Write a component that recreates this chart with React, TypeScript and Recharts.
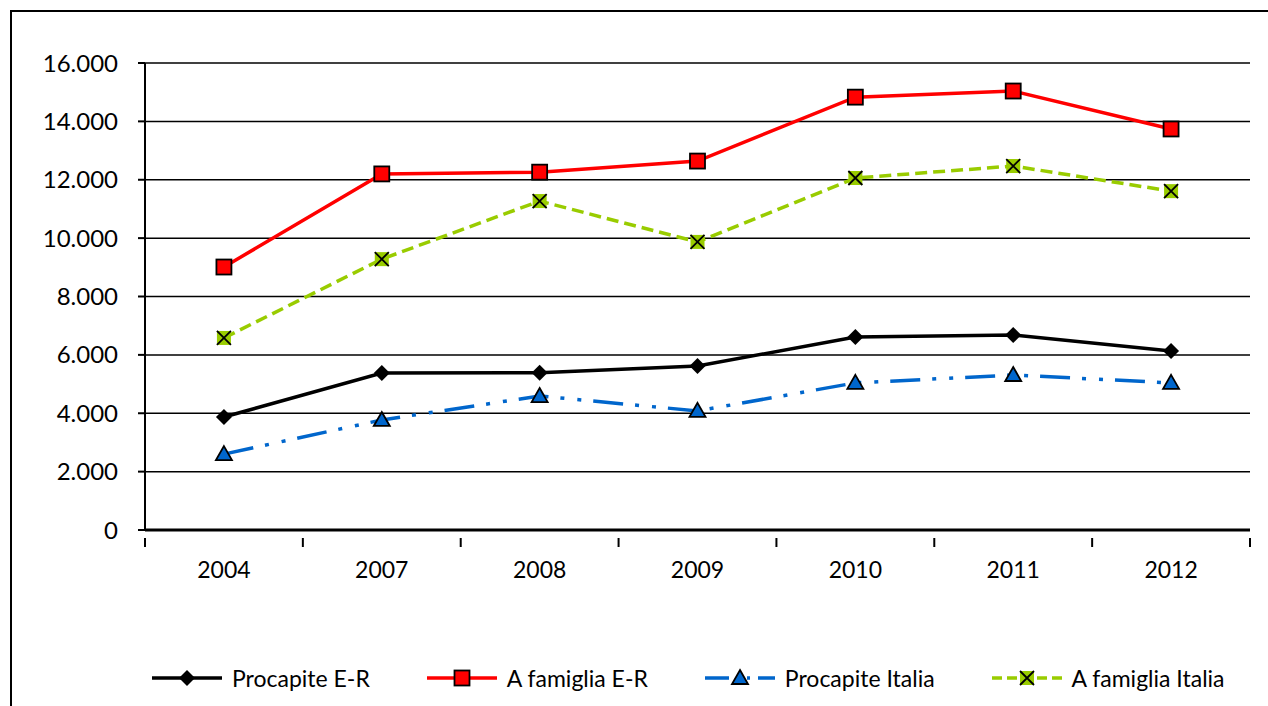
import { LineChart, Line, XAxis, YAxis, CartesianGrid, Legend } from "recharts";

const years = ["2004", "2007", "2008", "2009", "2010", "2011", "2012"];
const procapiteER = [3870, 5380, 5390, 5620, 6610, 6680, 6130];
const famigliaER = [9010, 12200, 12260, 12640, 14830, 15040, 13740];
const procapiteIT = [2600, 3770, 4590, 4080, 5040, 5310, 5040];
const famigliaIT = [6580, 9280, 11270, 9870, 12060, 12470, 11610];
const yTicks = [0, 2000, 4000, 6000, 8000, 10000, 12000, 14000, 16000];

const data = years.map((year, i) => ({
  year,
  procapiteER: procapiteER[i],
  famigliaER: famigliaER[i],
  procapiteIT: procapiteIT[i],
  famigliaIT: famigliaIT[i],
}));

const FONT = "Lato, 'Open Sans', sans-serif";
const BLUE = "#0066CC";
const GREEN = "#99CC00";
const BLUE_DASH = "30 12 4 13 4 12";
const GREEN_DASH = "12 6";

const fmt = (v: number) => v.toLocaleString("it-IT").replace(/\s/g, ".");

function Diamond({ cx, cy }: { cx: number; cy: number }) {
  const r = 8;
  return <path d={`M${cx},${cy - r}L${cx + r},${cy}L${cx},${cy + r}L${cx - r},${cy}Z`} fill="#000" />;
}
function Square({ cx, cy }: { cx: number; cy: number }) {
  return <rect x={cx - 7.5} y={cy - 7.5} width={15} height={15} fill="#FF0000" stroke="#000" strokeWidth={1.8} />;
}
function Triangle({ cx, cy }: { cx: number; cy: number }) {
  return <path d={`M${cx},${cy - 8}L${cx + 8},${cy + 6}L${cx - 8},${cy + 6}Z`} fill={BLUE} stroke="#000" strokeWidth={1.8} />;
}
function CrossSq({ cx, cy }: { cx: number; cy: number }) {
  return (
    <g>
      <rect x={cx - 7} y={cy - 7} width={14} height={14} fill={GREEN} />
      <path d={`M${cx - 7},${cy - 7}L${cx + 7},${cy + 7}M${cx + 7},${cy - 7}L${cx - 7},${cy + 7}`} stroke="#000" strokeWidth={1.8} />
    </g>
  );
}

const dotOf = (Shape: any) => (p: any) => <Shape key={p.index} cx={p.cx} cy={p.cy} />;

function XTick(props: any) {
  const { x, y, payload, index } = props;
  const half = payload?.offset ?? 79;
  return (
    <g>
      <line x1={x - half} y1={y} x2={x - half} y2={y + 9} stroke="#000" strokeWidth={2} />
      {index === years.length - 1 && (
        <line x1={x + half} y1={y} x2={x + half} y2={y + 9} stroke="#000" strokeWidth={2} />
      )}
      <text x={x} y={y + 31} textAnchor="middle" dominantBaseline="central" fill="#000" fontSize={23} fontFamily={FONT}>
        {payload.value}
      </text>
    </g>
  );
}

const legendItems = [
  { label: "Procapite E-R", color: "#000", dash: undefined, Shape: Diamond },
  { label: "A famiglia E-R", color: "#FF0000", dash: undefined, Shape: Square },
  { label: "Procapite Italia", color: BLUE, dash: "24 7 3 8 3 8", Shape: Triangle },
  { label: "A famiglia Italia", color: GREEN, dash: "10 5", Shape: CrossSq },
];

function LegendContent() {
  return (
    <div style={{ display: "flex", justifyContent: "flex-start", alignItems: "center", gap: 56, height: 30, paddingLeft: 151 }}>
      {legendItems.map((it) => (
        <div key={it.label} style={{ display: "flex", alignItems: "center" }}>
          <svg width={72} height={20} style={{ marginRight: 9 }}>
            <line x1={1} y1={10} x2={71} y2={10} stroke={it.color} strokeWidth={3.5} strokeDasharray={it.dash} />
            <it.Shape cx={36} cy={10} />
          </svg>
          <span style={{ fontFamily: FONT, fontSize: 23, color: "#000" }}>{it.label}</span>
        </div>
      ))}
    </div>
  );
}

export default function App() {
  return (
    <div style={{ position: "fixed", left: 0, top: 0, width: 1268, height: 706, background: "#fff", overflow: "hidden" }}>
      <div
        style={{ position: "absolute", left: 10, top: 10, width: 1400, height: 800, border: "2px solid #000", boxSizing: "border-box" }}
      />
      <div style={{ position: "absolute", left: 0, top: 0 }}>
        <LineChart width={1268} height={706} data={data} margin={{ top: 63, right: 18, left: 0, bottom: 13 }}>
          <CartesianGrid vertical={false} stroke="#000" strokeWidth={1.5} />
          <XAxis
            dataKey="year"
            scale="band"
            height={133}
            axisLine={{ stroke: "#000", strokeWidth: 3 }}
            tickLine={false}
            tick={<XTick />}
            interval={0}
          />
          <XAxis xAxisId="top" orientation="top" dataKey="year" height={0} tick={false} tickLine={false} axisLine={{ stroke: "#888", strokeWidth: 2 }} />
          <YAxis
            width={145}
            domain={[0, 16000]}
            ticks={yTicks}
            interval={0}
            tickFormatter={fmt}
            axisLine={{ stroke: "#000", strokeWidth: 2 }}
            tickLine={{ stroke: "#000", strokeWidth: 2 }}
            tickSize={7}
            tickMargin={20}
            tick={{ fill: "#000", fontSize: 24, fontFamily: FONT }}
          />
          <YAxis yAxisId="right" orientation="right" width={0} tick={false} tickLine={false} axisLine={{ stroke: "#888", strokeWidth: 2 }} />
          <Legend verticalAlign="bottom" height={30} content={<LegendContent />} />
          <Line dataKey="procapiteER" stroke="#000" strokeWidth={3.5} dot={dotOf(Diamond)} activeDot={false} isAnimationActive={false} />
          <Line dataKey="famigliaER" stroke="#FF0000" strokeWidth={3.5} dot={dotOf(Square)} activeDot={false} isAnimationActive={false} />
          <Line dataKey="procapiteIT" stroke={BLUE} strokeWidth={3.5} strokeDasharray={BLUE_DASH} dot={dotOf(Triangle)} activeDot={false} isAnimationActive={false} />
          <Line dataKey="famigliaIT" stroke={GREEN} strokeWidth={3.5} strokeDasharray={GREEN_DASH} dot={dotOf(CrossSq)} activeDot={false} isAnimationActive={false} />
        </LineChart>
      </div>
    </div>
  );
}
